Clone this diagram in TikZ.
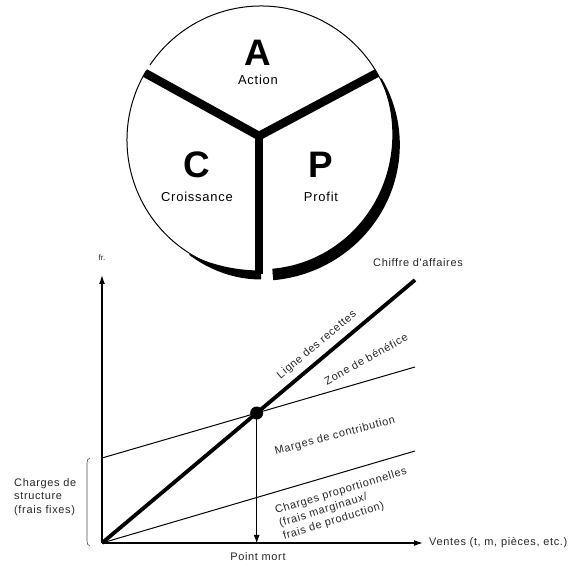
\documentclass[tikz,border=0pt]{standalone}
\usepackage{fontspec}
\setmainfont{Liberation Sans}
\newfontfamily\trackfont[LetterSpace=6]{Liberation Sans}
\usetikzlibrary{arrows.meta,calc}
\tikzset{
  big/.style={font=\fontsize{37}{40}\selectfont\bfseries},
  word/.style={font=\trackfont\fontsize{13}{15}\selectfont},
  glabel/.style={font=\trackfont\fontsize{11}{13.5}\selectfont, text=black!85, inner sep=0pt},
  axis/.style={line width=1.3bp, -{Latex[length=9bp,width=6bp]}},
  thin/.style={line width=1bp},
  spoke/.style={line width=8.5bp},
}
\def\cx{261}
\def\cy{429}
\def\rr{134}
\begin{document}
\begin{tikzpicture}[x=1bp,y=1bp]
\useasboundingbox (0,0) rectangle (577,569);
% ---------- circle ----------
\coordinate (C) at (\cx,\cy);
\coordinate (J) at (259,433);
\coordinate (Lend) at ($(C)+(150:\rr)$);
\coordinate (Rend) at ($(C)+(30:\rr)$);
\coordinate (Bend) at (259,295);
% thin outline with gaps
\draw[thin] ($(C)+(-85:\rr)$) arc[start angle=-85, end angle=146, radius=\rr];
\draw[thin] ($(C)+(149:\rr)$) arc[start angle=149, end angle=269, radius=\rr];
% thick right arc (crescent)
\fill[black] plot[domain=-85:27, samples=60]
   ({\cx+(\rr+1+0.5*(1+10.5*cos(90*((\x+85)/112)^2)))*cos(\x)},
    {\cy+(\rr+1+0.5*(1+10.5*cos(90*((\x+85)/112)^2)))*sin(\x)})
 -- plot[domain=27:-85, samples=60]
   ({\cx+(\rr+1-0.5*(1+10.5*cos(90*((\x+85)/112)^2)))*cos(\x)},
    {\cy+(\rr+1-0.5*(1+10.5*cos(90*((\x+85)/112)^2)))*sin(\x)}) -- cycle;
% thick left-bottom arc
\fill[black] plot[domain=238:270, samples=30]
   ({\cx+(\rr+1+0.5*(1+8*sin(90*(\x-238)/32)))*cos(\x)},
    {\cy+(\rr+1+0.5*(1+8*sin(90*(\x-238)/32)))*sin(\x)})
 -- plot[domain=270:238, samples=30]
   ({\cx+(\rr+1-0.5*(1+8*sin(90*(\x-238)/32)))*cos(\x)},
    {\cy+(\rr+1-0.5*(1+8*sin(90*(\x-238)/32)))*sin(\x)}) -- cycle;
% spokes
\draw[spoke, line join=miter] (Lend) -- (J) -- (Rend);
\draw[spoke] (J) -- (Bend);
% letters
\node[big] (A) at (258,516) {A};
\node[word] (action) at (258,489) {Action};
\node[big] (Cl) at (197,404) {C};
\node[word] (croiss) at (197,372) {Croissance};
\node[big] (P) at (321,404) {P};
\node[word] (profit) at (321,372) {Profit};
% ---------- graph ----------
\coordinate (O) at (102,26);
\coordinate (Ytop) at (102,294);
\coordinate (Xend) at (423,26);
\coordinate (R) at (415,289);
\coordinate (F) at (102,111);
\coordinate (T) at (415,202);
\coordinate (Pp) at (415,118);
\draw[axis] (O) -- (Ytop);
\draw[axis] (O) -- (Xend);
\draw[thin] (F) -- (T);
\draw[thin] (O) -- (Pp);
\draw[line width=3.8bp] (O) -- (R);
\coordinate (BE) at (intersection of O--R and F--T);
\draw[line width=0.8bp, -{Latex[length=8bp,width=6bp]}] (BE) -- (BE |- O);
\fill (BE) circle[radius=6.5bp];
% bracket
\coordinate (b1) at (90,111);
\coordinate (b2) at (87,106);
\coordinate (b3) at (87,28);
\coordinate (b4) at (90,23);
\draw[line width=0.6bp, black!70] (b1) to[out=180,in=90] (b2) -- (b3) to[out=-90,in=180] (b4);
% labels
\node[glabel, font=\fontsize{8}{9}\selectfont] (fr) at (102,311) {fr.};
\node[glabel, anchor=west] (ventes) at (429,26) {Ventes (t, m, pièces, etc.)};
\node[glabel] (pm) at (258,12) {Point mort};
\node[glabel] (ca) at (418,306) {Chiffre d'affaires};
\node[glabel, rotate=40] (ldr) at (317,224) {Ligne des recettes};
\node[glabel, rotate=29] (zdb) at (366,210) {Zone de bénéfice};
\node[glabel, rotate=15] (mdc) at (335,133) {Marges de contribution};
\node[glabel, rotate=17, align=left] (cp) at (345,65) {Charges proportionnelles\\(frais marginaux/\\frais de production)};
\node[glabel, anchor=west, align=left] (cs) at (14,72) {Charges de\\structure\\(frais fixes)};
\end{tikzpicture}
\end{document}
